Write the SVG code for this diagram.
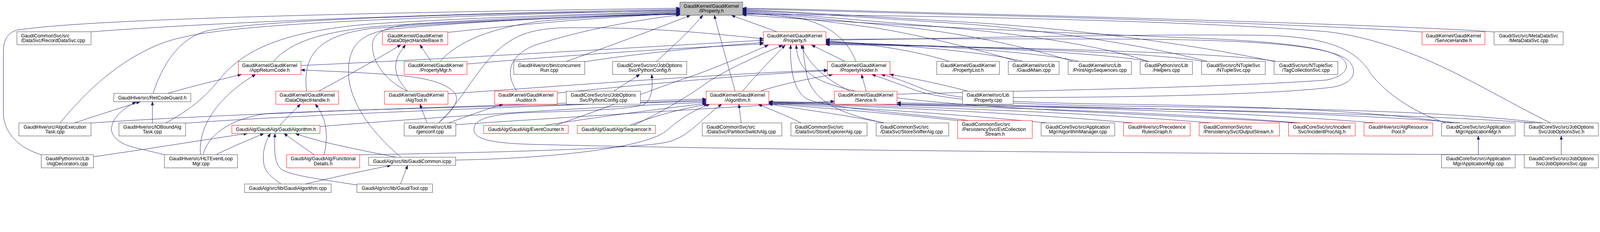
<svg xmlns="http://www.w3.org/2000/svg" width="4294" height="595" viewBox="0 0 4294 595" style="max-width:100%;height:auto;display:block">
<style>
text{font-family:"Liberation Sans",Arial,Helvetica,sans-serif;font-size:13px;fill:#000;text-anchor:middle}
text.l{text-anchor:start}
.nd rect{fill:#fff;stroke:#404040;stroke-width:1}
.rd rect{fill:#fff;stroke:#ff0000;stroke-width:1}
.gr rect{fill:#bfbfbf;stroke:#404040;stroke-width:1}
#edges path{fill:none;stroke:#191970;stroke-width:1;marker-end:url(#a)}
</style>
<defs>
<marker id="a" markerWidth="11" markerHeight="8" refX="10" refY="4" orient="auto" markerUnits="userSpaceOnUse"><path d="M0,0.5 L10,4 L0,7.5 z" fill="#191970" stroke="#191970" stroke-width="1"/></marker>
</defs>
<rect width="4294" height="595" fill="#fff"/>
<g id="edges">
<path d="M110.7,415.7 C60,400 9,365 9,300 L9,140 C9,105 22,88 45,81 C200,57 700,38 1825,22"/>
<path d="M244.3,85.5 C420,72 900,42 1825,25"/>
<path d="M161,330.3 C240,235 320,165 420,122 C520,80 700,55 1825,27"/>
<path d="M411,251 C440,160 490,98 560,82 C720,52 1250,36 1825,29"/>
<path d="M445,330.3 C520,290 560,250 590,212 C660,125 780,82 1000,64 C1300,46 1600,37 1825,31"/>
<path d="M734,165 C780,112 860,88 1000,72 C1300,50 1600,39 1825,33"/>
<path d="M822.7,245 C812,150 850,95 1000,76 C1300,56 1600,42 1825,35"/>
<path d="M1201.7,87 C1400,66 1600,46 1825,37"/>
<path d="M1181,165 C1230,110 1320,75 1450,57 C1580,45 1720,40 1825,39"/>
<path d="M1520,165 C1640,122 1760,78 1853,41"/>
<path d="M1387,245 C1350,190 1375,145 1434,122 C1560,80 1720,52 1825,40"/>
<path d="M1762,165 C1800,130 1850,85 1886,41"/>
<path d="M1973,245 C1955,180 1935,110 1917,41"/>
<path d="M2085,85.3 L1963,41"/>
<path d="M1076,422.3 C1010,367 945,290 936,210 C930,130 960,90 1050,78 C1300,55 1600,42 1825,38"/>
<path d="M1094,245 C1030,215 995,160 1000,115 C1005,85 1040,72 1100,66 C1400,50 1650,42 1825,36"/>
<path d="M4009.7,86 C3900,76 3400,58 2800,42 C2400,32 2150,24 1993,22"/>
<path d="M3816.3,86 C3700,76 3300,60 2800,45 C2400,35 2150,27 1993,24"/>
<path d="M3419.3,165 C3300,140 3000,85 2600,60 C2300,42 2100,30 1993,26"/>
<path d="M3240,165 C3150,140 2900,90 2600,65 C2300,45 2100,32 1993,28"/>
<path d="M3080,165 C3000,135 2800,95 2500,70 C2250,50 2100,35 1993,30"/>
<path d="M2880,165 C2800,140 2650,100 2450,75 C2250,55 2100,38 1993,32"/>
<path d="M2730,165 C2650,140 2500,100 2350,75 C2200,55 2080,40 1993,34"/>
<path d="M2297,165 C2280,120 2240,70 2150,50 C2080,40 2030,38 1993,36"/>
<path d="M4161,330.3 C4050,275 3950,215 3850,170 C3750,125 3650,95 3560,85 C3200,55 2500,42 1993,38"/>
<path d="M2407.3,253 C2700,245 3300,235 3560,215 C3610,205 3625,180 3605,160 C3580,130 3450,112 3200,102 C2900,90 2400,70 1993,40"/>
<path d="M3880,330.3 C3790,300 3720,250 3680,200 C3640,130 3560,100 3400,95 C3000,90 2500,105 2216.7,108"/>
<path d="M2548,165 C2470,140 2350,118 2216.7,110"/>
<path d="M2745,165 C2650,140 2400,118 2216.7,112"/>
<path d="M2895,165 C2800,140 2450,118 2216.7,114"/>
<path d="M3085,165 C2950,140 2500,120 2216.7,116"/>
<path d="M3230,165 C3100,140 2550,122 2216.7,118"/>
<path d="M3425,165 C3300,140 2600,124 2216.7,120"/>
<path d="M2719.3,262 C3000,262 3400,255 3570,235 C3625,228 3645,200 3625,170 C3595,125 3400,106 3000,105 C2700,104 2400,104 2216.7,106"/>
<path d="M2040,245 C2100,225 2180,210 2235,200"/>
<path d="M2325,245 L2312,200"/>
<path d="M1202.3,252 C1500,232 1900,200 2220.7,188"/>
<path d="M1495.3,250 C1700,230 2000,200 2220.7,190"/>
<path d="M2599,245 C2520,225 2450,210 2388,200"/>
<path d="M3900,330.3 C3700,300 3400,285 3000,280 C2700,276 2550,265 2480,240 C2430,220 2400,208 2365,200"/>
<path d="M4140,330.3 C3900,300 3500,290 3000,285 C2700,280 2530,270 2450,240 C2410,225 2370,210 2340,200"/>
<path d="M2268,165 L2178,121"/>
<path d="M2281,245 C2220,215 2170,175 2150,121"/>
<path d="M1993,245 C2030,200 2070,160 2107,121"/>
<path d="M1253.3,172 C1500,150 1800,130 2048.7,118"/>
<path d="M1569.3,166 C1700,145 1900,125 2048.7,114"/>
<path d="M807.7,176 C1100,163 1500,140 2048.7,108"/>
<path d="M1177,330.3 C1240,270 1270,200 1330,140 C1380,95 1420,80 1500,75 C1750,70 1950,95 2048.7,104"/>
<path d="M1700,336.7 C1780,300 1860,250 1900,220 C1980,170 2060,140 2100,121"/>
<path d="M1490,336.7 C1600,300 1750,240 1870,200 C1950,170 2020,140 2062,121"/>
<path d="M2373,330.3 C2250,305 2180,270 2165,200 C2158,160 2155,140 2155,121"/>
<path d="M2600,323.7 C2400,300 2200,290 2160,262 C2128,238 2120,180 2122,121"/>
<path d="M3480,330.3 C3000,300 2450,290 2260,236 C2170,212 2140,180 2137,121"/>
<path d="M1223.3,335 C1600,310 2000,285 2239.3,272"/>
<path d="M3920,330.3 C3600,300 2800,285 2407.3,276"/>
<path d="M4120,330.3 C3700,300 2900,288 2407.3,281"/>
<path d="M244.3,330.5 C600,305 1400,280 1895.3,266"/>
<path d="M498,331 C800,308 1500,283 1895.3,269"/>
<path d="M545,415.7 C560,360 620,318 718,305 C1000,292 1500,282 1895.3,272"/>
<path d="M858.7,340 C1100,320 1500,292 1895.3,275"/>
<path d="M4090.7,415.7 C3000,412 2000,402 1434,388 C1310,385 1272,372 1272,348 C1272,318 1320,305 1434,302 C1550,298 1680,295 1725,282 C1752,270 1752,230 1749,200"/>
<path d="M1223,430 C1500,425 1740,395 1790,350 C1830,315 1870,292 1905,280"/>
<path d="M965.3,416 C1200,412 1700,402 1790,382 C1850,368 1880,320 1937,280"/>
<path d="M1989,330.3 L1983,280"/>
<path d="M2150,330.3 C2110,310 2070,295 2035,280"/>
<path d="M1462,336.7 C1600,315 1750,295 1895.3,278"/>
<path d="M1690,336.7 C1760,310 1830,292 1900,280"/>
<path d="M2373,330.3 C2250,305 2120,290 2063.3,279"/>
<path d="M2570,324 C2400,305 2200,290 2063.3,278"/>
<path d="M2810,330.3 C2500,300 2200,285 2063.3,277"/>
<path d="M3040,330.3 C2700,300 2300,285 2063.3,276"/>
<path d="M3250,330.3 C2900,300 2400,285 2063.3,275"/>
<path d="M3490,330.3 C3100,298 2500,283 2063.3,274"/>
<path d="M3690,330.3 C3300,296 2600,281 2063.3,273"/>
<path d="M450,251 C520,230 600,212 648,200"/>
<path d="M538,415.7 C530,330 600,250 686,200"/>
<path d="M441.3,415.7 C400,405 370,400 340,390 C305,375 296,355 300,340 C306,310 335,290 365,273.3"/>
<path d="M200,330.3 C260,310 330,288 376,273.3"/>
<path d="M409,330.3 L409,273.3"/>
<path d="M580,415.7 C620,395 670,375 708,358.7"/>
<path d="M251,421 C400,400 550,375 664,358.7"/>
<path d="M751,336.7 C770,315 790,297 806,280"/>
<path d="M843,415.7 L762,358.7"/>
<path d="M870,415.7 C880,370 880,320 846,280"/>
<path d="M1063,422.3 C950,400 850,380 793,358.7"/>
<path d="M754,494.3 C735,480 712,465 708,440 C703,410 712,380 726,358.7"/>
<path d="M958,497 C850,480 770,470 752,452 C736,435 736,400 738,358.7"/>
<path d="M820,494.3 C900,475 980,458 1049,444.3"/>
<path d="M1075,494.3 C1080,480 1088,460 1094,444.3"/>
<path d="M855,245 C930,205 1010,160 1076,120.3"/>
<path d="M1157,165 L1127,120.3"/>
<path d="M1094,245 C1075,225 1060,200 1062,175 C1064,150 1078,135 1088,120.3"/>
<path d="M1177,330.3 C1225,290 1232,265 1220,250 C1200,225 1150,210 1074,203 C1000,196 900,192 807.7,188"/>
<path d="M1146,330.3 L1127,280"/>
<path d="M1204,330.3 C1260,310 1300,295 1350,280"/>
<path d="M1647,245 L1717,200"/>
<path d="M3967.5,415.7 L3967.5,365.3"/>
<path d="M4190,415.7 L4190,365.3"/>
</g>
<g id="n_iproperty" class="gr"><rect x="1824.7" y="5.7" width="168.3" height="35.3"/><text x="1909" y="21">GaudiKernel/GaudiKernel</text><text x="1909" y="34">/IProperty.h</text></g>
<g id="n_recorddatasvc" class="nd"><rect x="45.3" y="85.3" width="199" height="35"/><text class="l" x="56.5" y="100.3">GaudiCommonSvc/src</text><text class="l" x="56.5" y="113.3">/DataSvc/RecordDataSvc.cpp</text></g>
<g id="n_dohbase" class="rd"><rect x="1026.3" y="85.3" width="175.4" height="35"/><text x="1114" y="100.3">GaudiKernel/GaudiKernel</text><text x="1114" y="113.3">/DataObjectHandleBase.h</text></g>
<g id="n_property" class="rd"><rect x="2048.7" y="85.3" width="168" height="35"/><text x="2132.7" y="100.3">GaudiKernel/GaudiKernel</text><text x="2132.7" y="113.3">/Property.h</text></g>
<g id="n_servicehandle" class="rd"><rect x="3816.3" y="85.3" width="168.7" height="35"/><text x="3900.6" y="100.3">GaudiKernel/GaudiKernel</text><text x="3900.6" y="113.3">/ServiceHandle.h</text></g>
<g id="n_metadatasvc" class="nd"><rect x="4009.7" y="85.3" width="185.3" height="35"/><text x="4102.3" y="100.3">GaudiSvc/src/MetaDataSvc</text><text x="4102.3" y="113.3">/MetaDataSvc.cpp</text></g>
<g id="n_appreturncode" class="rd"><rect x="639.7" y="165" width="168" height="35"/><text x="723.7" y="180">GaudiKernel/GaudiKernel</text><text x="723.7" y="193">/AppReturnCode.h</text></g>
<g id="n_propertymgr" class="rd"><rect x="1084.7" y="165" width="168.6" height="35"/><text x="1169" y="180">GaudiKernel/GaudiKernel</text><text x="1169" y="193">/PropertyMgr.h</text></g>
<g id="n_concurrentrun" class="nd"><rect x="1378.7" y="165" width="190.6" height="35"/><text x="1474" y="180">GaudiHive/src/bin/concurrent</text><text x="1474" y="193">Run.cpp</text></g>
<g id="n_pythonconfig_h" class="nd"><rect x="1644" y="165" width="199" height="35"/><text x="1743.5" y="180">GaudiCoreSvc/src/JobOptions</text><text x="1743.5" y="193">Svc/PythonConfig.h</text></g>
<g id="n_propertyholder" class="rd"><rect x="2220.7" y="165" width="168" height="35"/><text x="2304.7" y="180">GaudiKernel/GaudiKernel</text><text x="2304.7" y="193">/PropertyHolder.h</text></g>
<g id="n_propertylist" class="nd"><rect x="2514" y="165" width="168.3" height="35"/><text x="2598.2" y="180">GaudiKernel/GaudiKernel</text><text x="2598.2" y="193">/PropertyList.h</text></g>
<g id="n_gaudimain" class="nd"><rect x="2706" y="165" width="136.3" height="35"/><text x="2774.2" y="180">GaudiKernel/src/Lib</text><text x="2774.2" y="193">/GaudiMain.cpp</text></g>
<g id="n_printalgs" class="nd"><rect x="2866.7" y="165" width="169.6" height="35"/><text x="2951.5" y="180">GaudiKernel/src/Lib</text><text x="2951.5" y="193">/PrintAlgsSequences.cpp</text></g>
<g id="n_helpers" class="nd"><rect x="3060" y="165" width="140.3" height="35"/><text x="3130.2" y="180">GaudiPython/src/Lib</text><text x="3130.2" y="193">/Helpers.cpp</text></g>
<g id="n_ntuplesvc" class="nd"><rect x="3224.7" y="165" width="171" height="35"/><text x="3310.2" y="180">GaudiSvc/src/NTupleSvc</text><text x="3310.2" y="193">/NTupleSvc.cpp</text></g>
<g id="n_tagcollection" class="nd"><rect x="3419.3" y="165" width="171" height="35"/><text x="3504.8" y="180">GaudiSvc/src/NTupleSvc</text><text x="3504.8" y="193">/TagCollectionSvc.cpp</text></g>
<g id="n_retcodeguard" class="nd"><rect x="305.3" y="251" width="206.7" height="22.3"/><text x="408.7" y="266.7">GaudiHive/src/RetCodeGuard.h</text></g>
<g id="n_dataobjecthandle" class="rd"><rect x="740.3" y="245" width="168.4" height="35"/><text x="824.5" y="260">GaudiKernel/GaudiKernel</text><text x="824.5" y="273">/DataObjectHandle.h</text></g>
<g id="n_algtool" class="rd"><rect x="1031.7" y="245" width="170.6" height="35"/><text x="1117" y="260">GaudiKernel/GaudiKernel</text><text x="1117" y="273">/AlgTool.h</text></g>
<g id="n_auditor" class="rd"><rect x="1327.7" y="245" width="167.6" height="35"/><text x="1411.5" y="260">GaudiKernel/GaudiKernel</text><text x="1411.5" y="273">/Auditor.h</text></g>
<g id="n_pythonconfig_cpp" class="nd"><rect x="1519.7" y="245" width="199.3" height="35"/><text x="1619.3" y="260">GaudiCoreSvc/src/JobOptions</text><text x="1619.3" y="273">Svc/PythonConfig.cpp</text></g>
<g id="n_algorithm" class="rd"><rect x="1895.3" y="245" width="168" height="35"/><text x="1979.3" y="260">GaudiKernel/GaudiKernel</text><text x="1979.3" y="273">/Algorithm.h</text></g>
<g id="n_service" class="rd"><rect x="2239.3" y="245" width="168" height="35"/><text x="2323.3" y="260">GaudiKernel/GaudiKernel</text><text x="2323.3" y="273">/Service.h</text></g>
<g id="n_property_cpp" class="nd"><rect x="2583.3" y="245" width="136" height="35"/><text x="2651.3" y="260">GaudiKernel/src/Lib</text><text x="2651.3" y="273">/Property.cpp</text></g>
<g id="n_algoexecutiontask" class="nd"><rect x="50.7" y="330.3" width="193.6" height="35"/><text x="147.5" y="345.3">GaudiHive/src/AlgoExecution</text><text x="147.5" y="358.3">Task.cpp</text></g>
<g id="n_ioboundalgtask" class="nd"><rect x="319.3" y="330.3" width="178.7" height="35"/><text x="408.7" y="345.3">GaudiHive/src/IOBoundAlg</text><text x="408.7" y="358.3">Task.cpp</text></g>
<g id="n_gaudialgorithm_h" class="rd"><rect x="622.3" y="336.7" width="236.4" height="22"/><text x="740.5" y="352.2">GaudiAlg/GaudiAlg/GaudiAlgorithm.h</text></g>
<g id="n_genconf" class="nd"><rect x="1084.7" y="330.3" width="138.6" height="35"/><text x="1154" y="345.3">GaudiKernel/src/Util</text><text x="1154" y="358.3">/genconf.cpp</text></g>
<g id="n_eventcounter" class="rd"><rect x="1298" y="336.7" width="227" height="22"/><text x="1411.5" y="352.2">GaudiAlg/GaudiAlg/EventCounter.h</text></g>
<g id="n_sequencer" class="rd"><rect x="1549.3" y="336.7" width="209.7" height="22"/><text x="1654.2" y="352.2">GaudiAlg/GaudiAlg/Sequencer.h</text></g>
<g id="n_partitionswitchalg" class="nd"><rect x="1884.7" y="330.3" width="213.6" height="35"/><text class="l" x="1896.5" y="345.3">GaudiCommonSvc/src</text><text class="l" x="1896.5" y="358.3">/DataSvc/PartitionSwitchAlg.cpp</text></g>
<g id="n_storeexploreralg" class="nd"><rect x="2122.7" y="330.3" width="204.3" height="35"/><text class="l" x="2133.5" y="345.3">GaudiCommonSvc/src</text><text class="l" x="2133.5" y="358.3">/DataSvc/StoreExplorerAlg.cpp</text></g>
<g id="n_storesnifferalg" class="nd"><rect x="2351.3" y="330.3" width="195" height="35"/><text class="l" x="2362.5" y="345.3">GaudiCommonSvc/src</text><text class="l" x="2362.5" y="358.3">/DataSvc/StoreSnifferAlg.cpp</text></g>
<g id="n_evtcollectionstream" class="rd"><rect x="2570" y="323.7" width="200.3" height="48"/><text class="l" x="2581.5" y="338.5">GaudiCommonSvc/src</text><text class="l" x="2581.5" y="351.5">/PersistencySvc/EvtCollection</text><text x="2670.2" y="364.5">Stream.h</text></g>
<g id="n_algorithmmanager" class="nd"><rect x="2794" y="330.3" width="197.7" height="35"/><text x="2892.8" y="345.3">GaudiCoreSvc/src/Application</text><text x="2892.8" y="358.3">Mgr/AlgorithmManager.cpp</text></g>
<g id="n_precedencerulesgraph" class="rd"><rect x="3015.3" y="330.3" width="179" height="35"/><text x="3104.8" y="345.3">GaudiHive/src/Precedence</text><text x="3104.8" y="358.3">RulesGraph.h</text></g>
<g id="n_outputstream" class="rd"><rect x="3218.3" y="330.3" width="215.4" height="35"/><text class="l" x="3230" y="345.3">GaudiCommonSvc/src</text><text class="l" x="3230" y="358.3">/PersistencySvc/OutputStream.h</text></g>
<g id="n_incidentprocalg" class="rd"><rect x="3458" y="330.3" width="179" height="35"/><text x="3547.5" y="345.3">GaudiCoreSvc/src/Incident</text><text x="3547.5" y="358.3">Svc/IncidentProcAlg.h</text></g>
<g id="n_algresourcepool" class="rd"><rect x="3660.7" y="330.3" width="184.3" height="35"/><text x="3752.8" y="345.3">GaudiHive/src/AlgResource</text><text x="3752.8" y="358.3">Pool.h</text></g>
<g id="n_applicationmgr_h" class="nd"><rect x="3868.7" y="330.3" width="197.6" height="35"/><text x="3967.5" y="345.3">GaudiCoreSvc/src/Application</text><text x="3967.5" y="358.3">Mgr/ApplicationMgr.h</text></g>
<g id="n_joboptionssvc_h" class="nd"><rect x="4090.7" y="330.3" width="199" height="35"/><text x="4190.2" y="345.3">GaudiCoreSvc/src/JobOptions</text><text x="4190.2" y="358.3">Svc/JobOptionsSvc.h</text></g>
<g id="n_algdecorators" class="nd"><rect x="110.7" y="415.7" width="140.3" height="35.3"/><text x="180.8" y="430.8">GaudiPython/src/Lib</text><text x="180.8" y="443.8">/AlgDecorators.cpp</text></g>
<g id="n_hlteventloopmgr" class="nd"><rect x="441.3" y="415.7" width="196" height="35.3"/><text x="539.3" y="430.8">GaudiHive/src/HLTEventLoop</text><text x="539.3" y="443.8">Mgr.cpp</text></g>
<g id="n_functionaldetails" class="rd"><rect x="769.3" y="415.7" width="196" height="35.3"/><text x="867.3" y="430.8">GaudiAlg/GaudiAlg/Functional</text><text x="867.3" y="443.8">Details.h</text></g>
<g id="n_gaudicommon" class="nd"><rect x="989.3" y="422.3" width="233.7" height="22"/><text x="1106.2" y="437.8">GaudiAlg/src/lib/GaudiCommon.icpp</text></g>
<g id="n_applicationmgr_cpp" class="nd"><rect x="3868.7" y="415.7" width="197.6" height="35.3"/><text x="3967.5" y="430.8">GaudiCoreSvc/src/Application</text><text x="3967.5" y="443.8">Mgr/ApplicationMgr.cpp</text></g>
<g id="n_joboptionssvc_cpp" class="nd"><rect x="4090.7" y="415.7" width="199" height="35.3"/><text x="4190.2" y="430.8">GaudiCoreSvc/src/JobOptions</text><text x="4190.2" y="443.8">Svc/JobOptionsSvc.cpp</text></g>
<g id="n_gaudialgorithm_cpp" class="nd"><rect x="656.3" y="494.3" width="232.4" height="22.7"/><text x="772.5" y="510.2">GaudiAlg/src/lib/GaudiAlgorithm.cpp</text></g>
<g id="n_gauditool" class="nd"><rect x="958" y="494.3" width="203" height="22.7"/><text x="1059.5" y="510.2">GaudiAlg/src/lib/GaudiTool.cpp</text></g>
</svg>
